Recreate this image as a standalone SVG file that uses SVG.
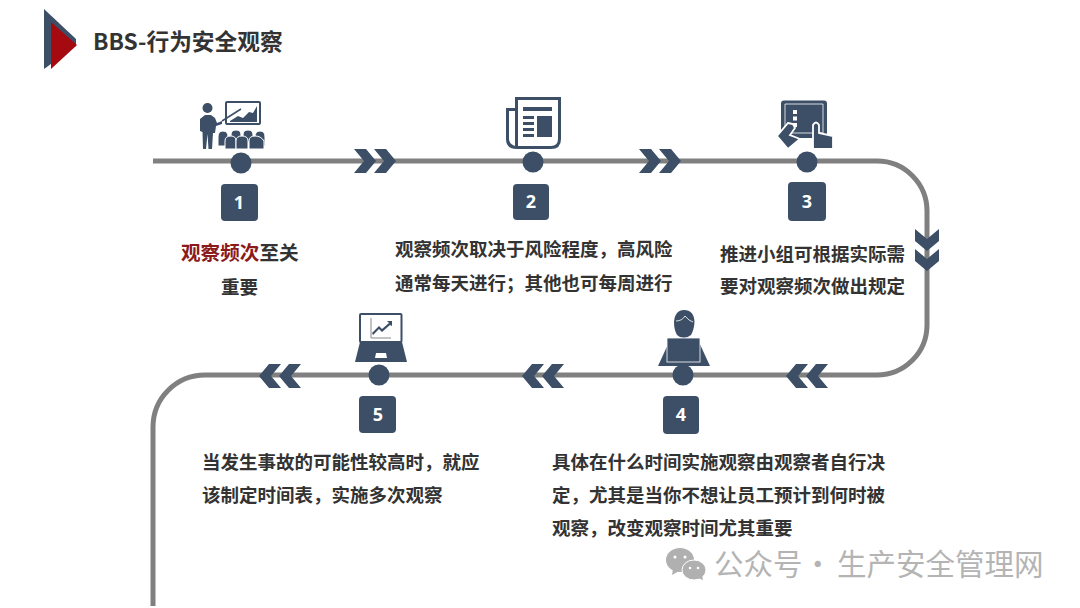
<svg xmlns="http://www.w3.org/2000/svg" width="1080" height="608" viewBox="0 0 1080 608">
<style>
.t{font-family:"Noto Sans CJK SC","Noto Sans",sans-serif;font-size:18.500px;font-weight:700;fill:#333}
.n{font-family:"Open Sans","Noto Sans",sans-serif;font-size:18px;font-weight:700;fill:#fff;text-anchor:middle}
.b{fill:#3c4f66}
.w{fill:#fff}
.box{fill:#3c4f66}
.seat{fill:#3c4f66;stroke:#fff;stroke-width:1}
.wm{font-family:'Noto Sans CJK SC','Noto Sans',sans-serif;font-size:29.500px;fill:#b4b4b4}
</style>
<defs>
<path id="ch" d="M0 0H12L22 12L12 24H0L10 12Z"/>
<g id="dbl"><use href="#ch" x="0"/><use href="#ch" x="20"/></g>
</defs>
<rect width="1080" height="608" fill="#fff"/>
<g id="header">
<path class="b" d="M44 9L76 39V46L44 69Z"/>
<path fill="#a50a10" d="M51 22L77 45L51 69Z"/>
<text x="93" y="50" style="font-family:'Noto Sans CJK SC','Noto Sans',sans-serif;font-size:22.700px;font-weight:700;fill:#333">BBS-行为安全观察</text>
</g>
<g id="connectors">
<path fill="none" stroke="#808080" stroke-width="5" d="M153 161H877A50 50 0 0 1 927 211V325A50 50 0 0 1 877 375H205A52 52 0 0 0 153 427V606"/>
<g fill="#3c4f66">
<use href="#dbl" transform="translate(354 149)" />
<use href="#dbl" transform="translate(639 149)" />
<use href="#dbl" transform="translate(939 229) rotate(90)" />
<use href="#dbl" transform="translate(828 388) rotate(180)" />
<use href="#dbl" transform="translate(564 388) rotate(180)" />
<use href="#dbl" transform="translate(301 388) rotate(180)" />
</g>
</g>
<g id="node1">
<g class="b">
<circle cx="207.500" cy="108" r="5"/>
<path d="M200 119L205 115H211L215 118L217 123L222 121L222 124L216 126L215 133L213 133L212 149H208.500L207.500 134L206 149H203L202.500 132L200 131Z"/>
<rect x="226" y="102" width="34" height="22" rx="1" fill="#fff" stroke="#3c4f66" stroke-width="2"/>
<path d="M230 121L238 116L243 118L249 112L253 113L257 106V122H230Z"/>
<path d="M222 121L241 109" stroke="#3c4f66" stroke-width="1.500"/>
</g>
<g class="seat">
<path d="M218 137Q218 131 223 131Q228 131 228 137V146H218Z"/>
<path d="M231 135Q231 130 236 130Q241 130 241 135V142H231Z"/>
<path d="M243 135Q243 130 248 130Q253 130 253 135V142H243Z"/>
<path d="M255 137Q255 131 260 131Q265 131 265 137V146H255Z"/>
<path d="M225 141Q225 136 231 136Q236 136 236 141V149H225Z"/>
<path d="M236 141Q236 136 242 136Q248 136 248 141V149H236Z"/>
<path d="M249 141Q249 136 255 136Q261 136 264 141V149H249Z"/>
</g>
<circle class="b" cx="241" cy="163" r="10.500"/>
<rect class="box" x="221" y="184" width="37" height="37" rx="4"/>
<text class="n" x="239" y="209">1</text>
<text class="t" x="181" y="260" style="font-size:19.600px"><tspan fill="#8b1a1a">观察频次</tspan>至关</text>
<text class="t" x="221" y="294">重要</text>
</g>
<g id="node2">
<path class="b" fill-rule="evenodd" d="M515 97H561V139Q561 149 551 149H517Q506 149 506 139V108H515ZM518 100V146H551Q558 146 558 139V100ZM509 111V139Q509 144 515 146V111Z"/>
<path class="b" d="M523 107H552V111H523ZM523 116H534V119H523ZM523 122H534V125H523ZM523 128H534V131H523ZM523 134H534V137H523ZM537 116H552V137H537Z"/>
<circle class="b" cx="533" cy="162" r="10.500"/>
<rect class="box" x="513" y="184" width="36" height="36" rx="4"/>
<text class="n" x="531" y="208">2</text>
<text class="t" x="395" y="256">观察频次取决于风险程度，高风险</text>
<text class="t" x="395" y="290">通常每天进行；其他也可每周进行</text>
</g>
<g id="node3">
<rect class="b" x="781" y="100.500" width="46" height="37.500" rx="3"/>
<path d="M785 133H823V104H785Z" class="b" stroke="#fff" stroke-width="0.800"/>
<path class="w" d="M793 110H797V114H793ZM793 116.500H797V120.500H793ZM793 123H797V127H793Z"/>
<path class="b" stroke="#fff" stroke-width="1.800" d="M788 123L793 124L795 128L790 135L800 139L788 149L777 136Z"/>
<path class="b" stroke="#fff" stroke-width="1.800" d="M813 149V125Q816 120 819 125V133L833 136V149Z"/>
<circle class="b" cx="807" cy="162" r="10.500"/>
<rect class="box" x="788" y="182" width="38" height="39" rx="4"/>
<text class="n" x="807" y="208">3</text>
<text class="t" x="720" y="261">推进小组可根据实际需</text>
<text class="t" x="720" y="293">要对观察频次做出规定</text>
</g>
<g id="node4">
<path class="b" d="M684 310Q694 310 694.500 322Q694 330 691 335Q687 338 684 338Q680 338 677 335Q674 330 674 322Q675 310 684 310Z"/>
<path d="M676 321Q682 321 685 316Q689 321 693 322" fill="none" stroke="#fff" stroke-width="0.800"/>
<path class="b" d="M664 353L669 342H699L704 353L710 366H658Z"/>
<rect class="b" x="667" y="338" width="33" height="24" stroke="#fff" stroke-width="0.800"/>
<circle class="b" cx="683" cy="375" r="10.500"/>
<rect class="box" x="663" y="396" width="36" height="38" rx="4"/>
<text class="n" x="681" y="421">4</text>
<text class="t" x="552" y="469">具体在什么时间实施观察由观察者自行决</text>
<text class="t" x="552" y="502">定，尤其是当你不想让员工预计到何时被</text>
<text class="t" x="552" y="535">观察，改变观察时间尤其重要</text>
</g>
<g id="node5">
<rect x="360" y="314" width="41.500" height="28" rx="1" fill="#fff" stroke="#3c4f66" stroke-width="2"/>
<path d="M371 318V338H391" fill="none" stroke="#888" stroke-width="1"/>
<path class="b" d="M373 335L372 333L379 326L382 329L389 323L387 321H392V326L390 325L382 332L379 329Z"/>
<path class="b" d="M360 342H402L407 362H355Z"/>
<path class="w" d="M376 353H386L387 358H375Z"/>
<circle class="b" cx="379" cy="375" r="10.500"/>
<rect class="box" x="359" y="396" width="37" height="37" rx="4"/>
<text class="n" x="378" y="421">5</text>
<text class="t" x="202" y="469">当发生事故的可能性较高时，就应</text>
<text class="t" x="202" y="502">该制定时间表，实施多次观察</text>
</g>
<g id="watermark">
<ellipse cx="680" cy="560" rx="14" ry="12" fill="#b0b0b0"/>
<path d="M673 569L672 575L681 570Z" fill="#b0b0b0"/>
<ellipse cx="694" cy="570" rx="12" ry="10" fill="#b0b0b0" stroke="#fff" stroke-width="1"/>
<path d="M698 578L703 580L702 575Z" fill="#b0b0b0"/>
<g fill="#fff"><circle cx="675" cy="557" r="1.500"/><circle cx="685" cy="557" r="1.500"/><circle cx="690" cy="568" r="1.300"/><circle cx="698" cy="568" r="1.300"/></g>
<text class="wm" x="714" y="575">公众号</text>
<text class="wm" x="803" y="575">·</text>
<text class="wm" x="837" y="575">生产安全管理网</text>
</g>
</svg>
